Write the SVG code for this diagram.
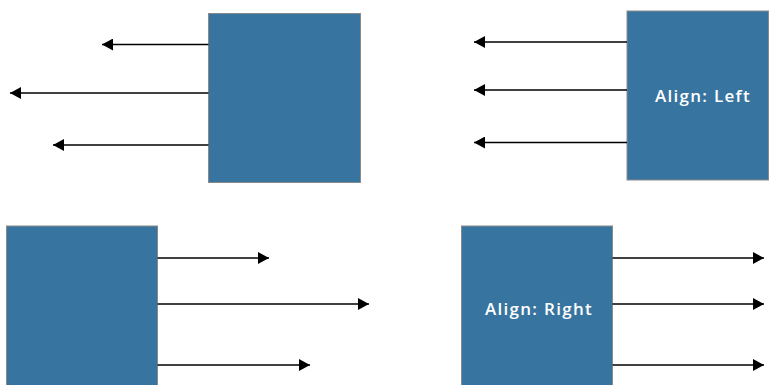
<svg xmlns="http://www.w3.org/2000/svg" width="769" height="385" viewBox="0 0 769 385">
<style>
.box{fill:#3874A0;stroke:#8a8a8a;stroke-width:1}
.lbl{fill:#ffffff;font-family:"Open Sans","DejaVu Sans",sans-serif;font-size:17px;font-weight:600;letter-spacing:1.3px;text-anchor:middle}
.con{stroke:#000000;stroke-width:1.5;fill:none;marker-end:url(#ah)}
</style>
<defs>
<marker id="ah" viewBox="0 0 10 10" refX="10" refY="5" markerUnits="userSpaceOnUse" markerWidth="11" markerHeight="12" orient="auto" preserveAspectRatio="none">
<path d="M0,0 L10,5 L0,10 Z" fill="#000000"/>
</marker>
</defs>
<rect width="769" height="385" fill="#ffffff"/>
<g id="node-topleft"><rect class="box" x="208.5" y="13.5" width="152" height="169"/></g>
<g id="node-alignleft"><rect class="box" x="627" y="11" width="141.5" height="169"/><text class="lbl" x="703" y="102">Align: Left</text></g>
<g id="node-bottomleft"><rect class="box" x="6.5" y="226" width="151" height="170"/></g>
<g id="node-alignright"><rect class="box" x="461.5" y="226" width="151" height="170"/><text class="lbl" x="539" y="315">Align: Right</text></g>
<g id="connectors">
<line class="con" x1="208.5" y1="44.5" x2="102" y2="44.5"/>
<line class="con" x1="208.5" y1="93" x2="10" y2="93"/>
<line class="con" x1="208.5" y1="145" x2="53" y2="145"/>
<line class="con" x1="627" y1="42" x2="474" y2="42"/>
<line class="con" x1="627" y1="90" x2="474" y2="90"/>
<line class="con" x1="627" y1="142.5" x2="474" y2="142.5"/>
<line class="con" x1="157.5" y1="258" x2="269" y2="258"/>
<line class="con" x1="157.5" y1="304" x2="369" y2="304"/>
<line class="con" x1="157.5" y1="365" x2="310" y2="365"/>
<line class="con" x1="612.5" y1="258" x2="764" y2="258"/>
<line class="con" x1="612.5" y1="304" x2="764" y2="304"/>
<line class="con" x1="612.5" y1="365" x2="764" y2="365"/>
</g>
</svg>
